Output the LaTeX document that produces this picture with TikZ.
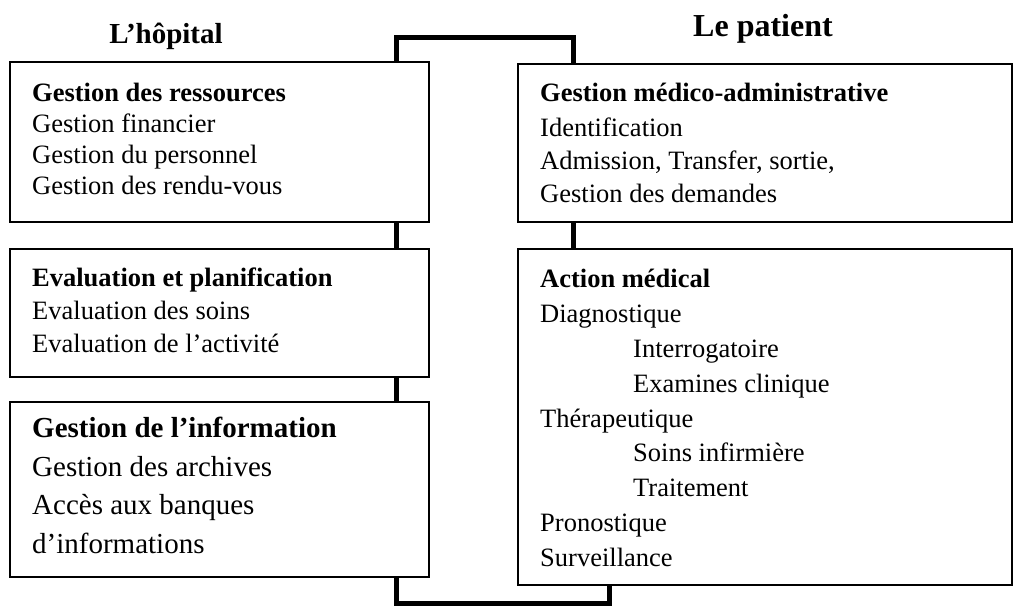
\documentclass[tikz,border=0pt]{standalone}
\usepackage{fontspec}
\setmainfont{Liberation Serif}
\begin{document}
\begin{tikzpicture}[x=1pt,y=-1pt,
  box/.style={draw, line width=1.6pt, inner sep=0pt, outer sep=0pt, anchor=north west},
  link/.style={line width=5pt, line join=miter},
  txt/.style={anchor=base west, inner sep=0pt, font=\fontsize{26.5}{30}\selectfont},
  head/.style={txt, font=\fontsize{26.5}{30}\selectfont\bfseries},
  bigtxt/.style={anchor=base west, inner sep=0pt, font=\fontsize{29}{34}\selectfont},
  bighead/.style={bigtxt, font=\fontsize{29}{34}\selectfont\bfseries},
  title/.style={anchor=base, inner sep=0pt, font=\bfseries}]
\useasboundingbox (0,0) rectangle (1014,606);

% titles
\node[title, font=\fontsize{29}{34}\selectfont\bfseries] (th) at (166,43) {L’hôpital};
\node[title, font=\fontsize{32}{38}\selectfont\bfseries] (tp) at (763,36) {Le patient};

% boxes
\node[box, minimum width=419pt, minimum height=160pt] (h1) at (10,62) {};
\node[box, minimum width=419pt, minimum height=128pt] (h2) at (10,249) {};
\node[box, minimum width=419pt, minimum height=175pt] (h3) at (10,402) {};
\node[box, minimum width=494pt, minimum height=158pt] (p1) at (518,64) {};
\node[box, minimum width=494pt, minimum height=336pt] (p2) at (518,249) {};

% connectors
\coordinate (cl) at (396,37);
\coordinate (cr) at (573,37);
\coordinate (bl) at (396,603);
\coordinate (br) at (609,603);
\draw[link] (cl |- h1.north) -- (cl) -- (cr) -- (cr |- p1.north);
\draw[link] (cl |- h1.south) -- (cl |- h2.north);
\draw[link] (cl |- h2.south) -- (cl |- h3.north);
\draw[link] (cr |- p1.south) -- (cr |- p2.north);
\draw[link] (bl |- h3.south) -- (bl) -- (br) -- (br |- p2.south);

% left box 1
\node[head] (h1a) at (32,101) {Gestion des ressources};
\node[txt]  (h1b) at (32,132) {Gestion financier};
\node[txt]  (h1c) at (32,163) {Gestion du personnel};
\node[txt]  (h1d) at (32,194) {Gestion des rendu-vous};

% left box 2
\node[head] (h2a) at (32,286) {Evaluation et planification};
\node[txt]  (h2b) at (32,319) {Evaluation des soins};
\node[txt]  (h2c) at (32,352) {Evaluation de l’activité};

% left box 3
\node[bighead] (h3a) at (32,437) {Gestion de l’information};
\node[bigtxt]  (h3b) at (32,476) {Gestion des archives};
\node[bigtxt]  (h3c) at (32,514) {Accès aux banques};
\node[bigtxt]  (h3d) at (32,553) {d’informations};

% right box 1
\node[head] (p1a) at (540,101) {Gestion médico-administrative};
\node[txt]  (p1b) at (540,136) {Identification};
\node[txt]  (p1c) at (540,169) {Admission, Transfer, sortie,};
\node[txt]  (p1d) at (540,202) {Gestion des demandes};

% right box 2
\node[head] (p2a) at (540,287) {Action médical};
\node[txt]  (p2b) at (540,322) {Diagnostique};
\node[txt]  (p2c) at (633,357) {Interrogatoire};
\node[txt]  (p2d) at (633,392) {Examines clinique};
\node[txt]  (p2e) at (540,427) {Thérapeutique};
\node[txt]  (p2f) at (633,461) {Soins infirmière};
\node[txt]  (p2g) at (633,496) {Traitement};
\node[txt]  (p2h) at (540,531) {Pronostique};
\node[txt]  (p2i) at (540,566) {Surveillance};
\end{tikzpicture}
\end{document}
